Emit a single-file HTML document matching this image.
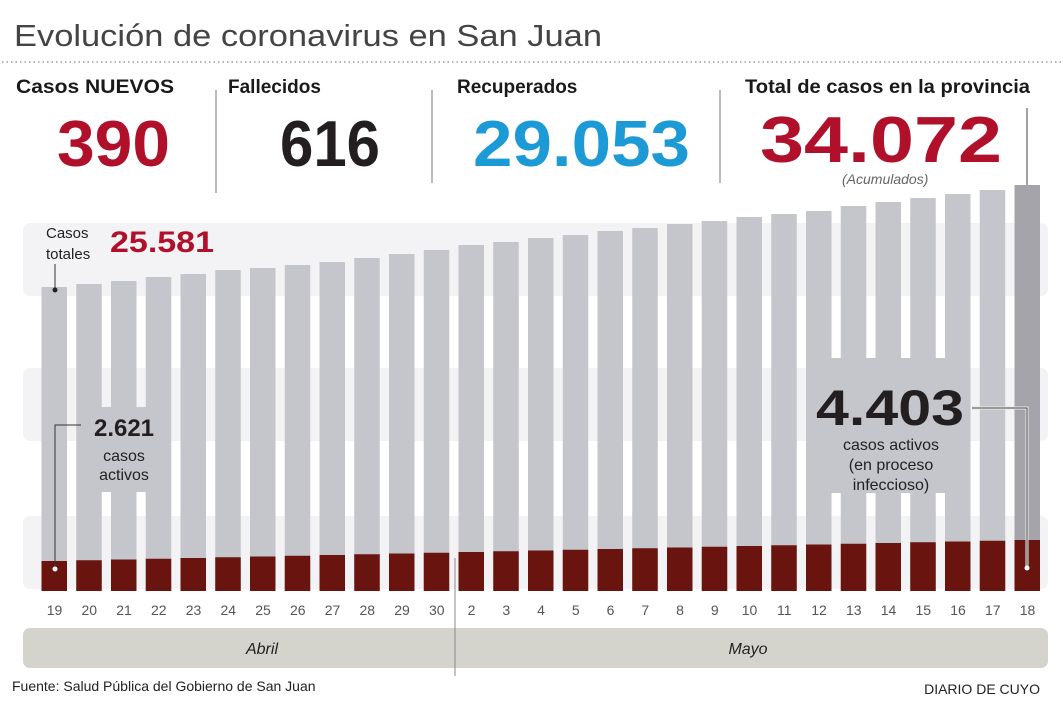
<!DOCTYPE html>
<html><head><meta charset="utf-8"><style>
html,body{margin:0;padding:0;background:#fff;}
svg{display:block;}
svg text{font-family:"Liberation Sans",sans-serif;}
</style></head><body>
<svg width="1063" height="709" viewBox="0 0 1063 709" xmlns="http://www.w3.org/2000/svg" font-family="Liberation Sans, sans-serif">
<rect width="1063" height="709" fill="#fff"/>
<text x="14" y="46" font-size="31" fill="#444" textLength="588" lengthAdjust="spacingAndGlyphs">Evolución de coronavirus en San Juan</text>
<line x1="2" y1="62" x2="1063" y2="62" stroke="#888" stroke-width="1.3" stroke-dasharray="1.5,3"/>
<text x="16" y="93" font-size="19" font-weight="bold" fill="#1a1a1a" textLength="158" lengthAdjust="spacingAndGlyphs">Casos NUEVOS</text>
<text x="228" y="93" font-size="19" font-weight="bold" fill="#1a1a1a">Fallecidos</text>
<text x="457" y="93" font-size="19" font-weight="bold" fill="#1a1a1a">Recuperados</text>
<text x="745" y="93" font-size="19" font-weight="bold" fill="#1a1a1a" textLength="285" lengthAdjust="spacingAndGlyphs">Total de casos en la provincia</text>
<line x1="216" y1="90" x2="216" y2="193" stroke="#777" stroke-width="1"/>
<line x1="432" y1="90" x2="432" y2="183" stroke="#777" stroke-width="1"/>
<line x1="720" y1="90" x2="720" y2="183" stroke="#777" stroke-width="1"/>
<text x="57" y="166" font-size="65" font-weight="bold" fill="#b0102a" textLength="113" lengthAdjust="spacingAndGlyphs">390</text>
<text x="280" y="166" font-size="65" font-weight="bold" fill="#231f20" textLength="100" lengthAdjust="spacingAndGlyphs">616</text>
<text x="473" y="166" font-size="65" font-weight="bold" fill="#1b9ad6" textLength="217" lengthAdjust="spacingAndGlyphs">29.053</text>
<text x="760" y="162" font-size="65" font-weight="bold" fill="#b0102a" textLength="242" lengthAdjust="spacingAndGlyphs">34.072</text>
<text x="842" y="184" font-size="14" font-style="italic" fill="#666">(Acumulados)</text>
<line x1="1027" y1="108" x2="1027" y2="190" stroke="#444" stroke-width="1"/>
<rect x="23" y="223" width="1025" height="73" rx="7" fill="#f3f3f5"/>
<rect x="23" y="368" width="1025" height="73" rx="7" fill="#f3f3f5"/>
<rect x="23" y="516" width="1025" height="73" rx="7" fill="#f3f3f5"/>
<rect x="77" y="407" width="70" height="85" fill="#c5c6cb"/>
<rect x="808" y="358" width="140" height="135" fill="#c5c6cb"/>
<g id="bars"></g>
<text x="46" y="238" font-size="15" fill="#222">Casos</text>
<text x="46" y="259" font-size="15" fill="#222">totales</text>
<text x="110" y="252" font-size="30" font-weight="bold" fill="#b0102a" textLength="104" lengthAdjust="spacingAndGlyphs">25.581</text>
<line x1="55" y1="264" x2="55" y2="290" stroke="#333"/>
<circle cx="55" cy="290" r="2.5" fill="#222"/>
<polyline points="55,569 55,425 81,425" fill="none" stroke="#333"/>
<circle cx="55" cy="569" r="2.5" fill="#fff"/>
<text x="124" y="436" font-size="24" font-weight="bold" fill="#231f20" text-anchor="middle">2.621</text>
<text x="124" y="461" font-size="16" fill="#222" text-anchor="middle">casos</text>
<text x="124" y="480" font-size="16" fill="#222" text-anchor="middle">activos</text>
<text x="890" y="425" font-size="50" font-weight="bold" fill="#231f20" text-anchor="middle" textLength="148" lengthAdjust="spacingAndGlyphs">4.403</text>
<text x="891" y="450" font-size="16" fill="#222" text-anchor="middle">casos activos</text>
<text x="891" y="470" font-size="16" fill="#222" text-anchor="middle">(en proceso</text>
<text x="891" y="490" font-size="16" fill="#222" text-anchor="middle">infeccioso)</text>
<polyline points="972,408 1027,408 1027,568" fill="none" stroke="#eee" stroke-width="3"/>
<polyline points="972,408 1027,408 1027,568" fill="none" stroke="#444" stroke-width="1"/>
<circle cx="1027" cy="568" r="2.5" fill="#fff"/>
<g id="labels" font-size="14" fill="#555" text-anchor="middle" font-family="Liberation Sans, sans-serif"></g>
<rect x="23" y="628" width="1025" height="40" rx="7" fill="#d4d3cc"/>
<line x1="455" y1="558" x2="455" y2="676" stroke="#888" stroke-width="1"/>
<text x="262" y="654" font-size="16" font-style="italic" fill="#222" text-anchor="middle">Abril</text>
<text x="748" y="654" font-size="16" font-style="italic" fill="#222" text-anchor="middle">Mayo</text>
<text x="12" y="691" font-size="14" fill="#222">Fuente: Salud Pública del Gobierno de San Juan</text>
<text x="1040" y="694" font-size="14" fill="#222" text-anchor="end">DIARIO DE CUYO</text>
</svg>
<script>
var tops=[287,284,281,277,274,270,268,265,262,258,254,250,245,242,238,235,231,228,224,221,217,214,211,206,202,198,194,190,185];
var labs=["19","20","21","22","23","24","25","26","27","28","29","30","2","3","4","5","6","7","8","9","10","11","12","13","14","15","16","17","18"];
var g=document.getElementById("bars"),L=document.getElementById("labels"),h="",lh="";
for(var i=0;i<29;i++){
 var x=41.5+i*34.75, r=561-i*0.75;
 h+='<rect x="'+x+'" y="'+tops[i]+'" width="25.5" height="'+(591-tops[i])+'" fill="'+(i==28?'#a4a4aa':'#c5c6cb')+'"/>';
 h+='<rect x="'+x+'" y="'+r+'" width="25.5" height="'+(591-r)+'" fill="#6a1410"/>';
 lh+='<text x="'+(x+13)+'" y="615">'+labs[i]+'</text>';
}
g.innerHTML=h;L.innerHTML=lh;
</script>
</body></html>
